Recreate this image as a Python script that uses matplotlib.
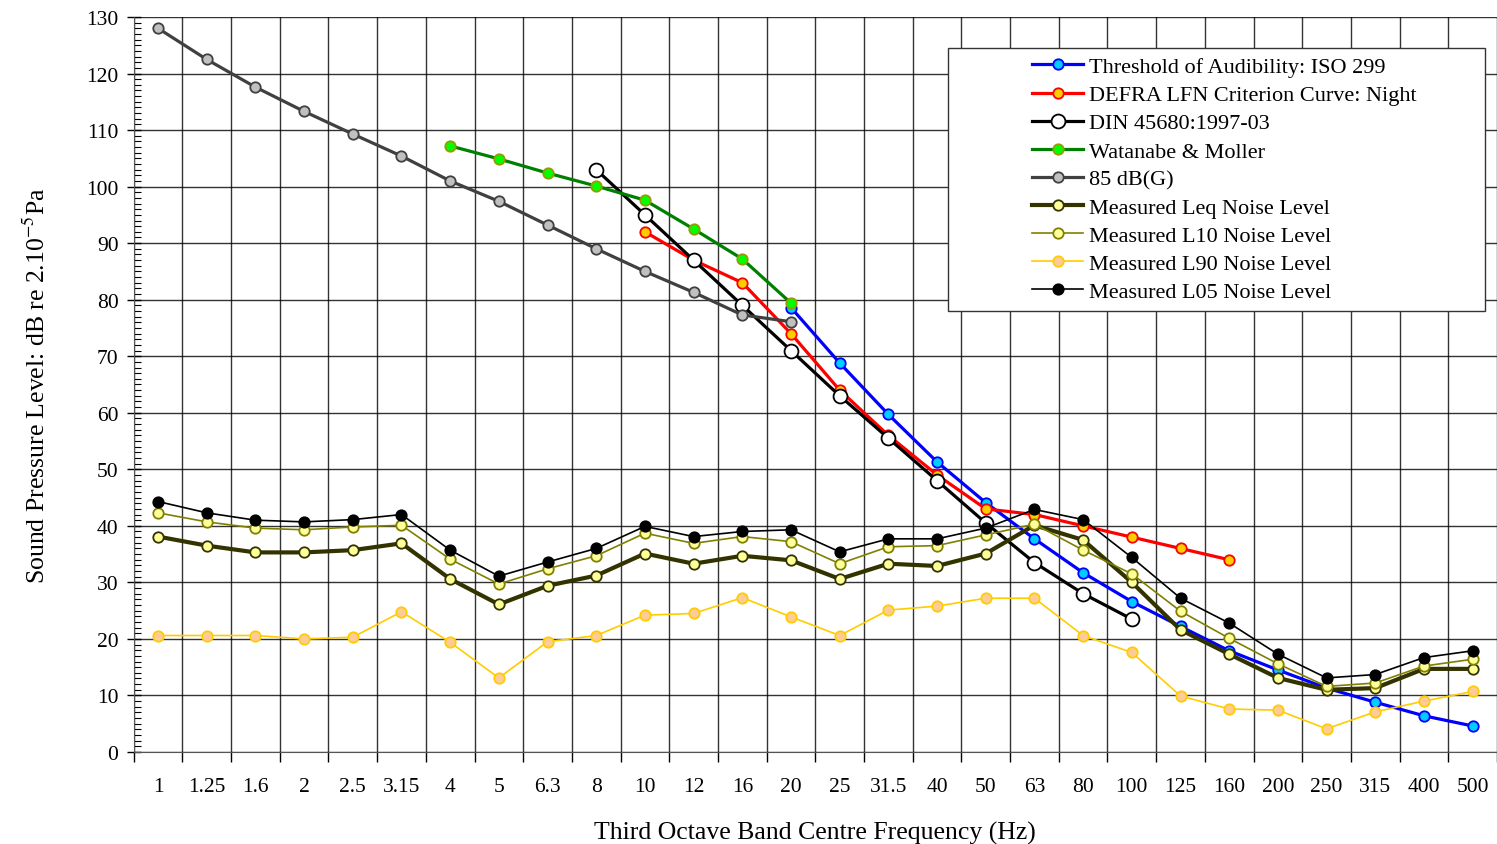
''' Low frequency noise: measured levels against threshold / criterion curves '''
import numpy as np
import matplotlib
matplotlib.use('Agg')
import matplotlib.pyplot as plt
from matplotlib.patches import Rectangle

plt.rcParams['font.family'] = ['Liberation Serif', 'DejaVu Serif']
plt.rcParams['mathtext.fontset'] = 'stix'

# third octave bands
bands = ['1', '1.25', '1.6', '2', '2.5', '3.15', '4', '5', '6.3', '8', '10', '12', '16', '20',
         '25', '31.5', '40', '50', '63', '80', '100', '125', '160', '200', '250', '315', '400', '500']

N = None
threshold_iso = [N] * 13 + [78.6, 68.8, 59.7, 51.3, 44.1, 37.7, 31.7, 26.6, 22.2, 17.9, 14.5, 11.3, 8.8, 6.4, 4.6]
defra_night = [N] * 10 + [92, 87, 83, 74, 64, 56, 49, 43, 42, 40, 38, 36, 34] + [N] * 5
din_45680 = [N] * 9 + [103, 95, 87, 79, 71, 63, 55.5, 48, 40.5, 33.5, 28, 23.5] + [N] * 7
watanabe_moller = [N] * 6 + [107.2, 104.9, 102.4, 100.1, 97.6, 92.5, 87.2, 79.4] + [N] * 14
g85 = [128.0, 122.5, 117.6, 113.3, 109.3, 105.4, 101.0, 97.4, 93.2, 89.0, 85.0, 81.3, 77.3, 76.1] + [N] * 14

leq = [38.1, 36.5, 35.3, 35.3, 35.7, 36.9, 30.6, 26.1, 29.4, 31.2, 35.1, 33.3, 34.7, 33.9,
       30.6, 33.3, 32.9, 35.1, 40.1, 37.5, 30.0, 21.6, 17.3, 13.1, 11.0, 11.3, 14.7, 14.7]
l10 = [42.3, 40.7, 39.6, 39.3, 39.8, 40.1, 34.1, 29.7, 32.4, 34.7, 38.7, 36.9, 38.1, 37.2,
       33.3, 36.3, 36.5, 38.4, 40.3, 35.7, 31.5, 24.9, 20.1, 15.6, 11.6, 12.2, 15.2, 16.4]
l90 = [20.6, 20.6, 20.6, 20.0, 20.3, 24.8, 19.4, 13.1, 19.5, 20.6, 24.2, 24.5, 27.3, 23.9,
       20.6, 25.1, 25.8, 27.2, 27.2, 20.6, 17.6, 9.9, 7.6, 7.4, 4.1, 7.1, 9.0, 10.7]
l05 = [44.3, 42.3, 41.0, 40.7, 41.1, 42.0, 35.7, 31.1, 33.6, 36.0, 39.9, 38.1, 39.0, 39.3,
       35.4, 37.7, 37.7, 39.6, 42.9, 41.1, 34.4, 27.2, 22.8, 17.3, 13.1, 13.7, 16.7, 17.9]


def arr(vals):
    return np.array([np.nan if v is None else v for v in vals], dtype=float)


x = np.arange(len(bands))

fig = plt.figure(figsize=(14.97, 8.45), dpi=100)
ax = fig.add_axes([0.0893, 0.1089, 0.9107, 0.8698])

series = [
    ('Threshold of Audibility: ISO 299', threshold_iso, '#0000ff', '#00ccff', '#0000ff', 2.3, 7.5),
    ('DEFRA LFN Criterion Curve: Night', defra_night, '#ff0000', '#ffcc00', '#ff0000', 2.3, 7.5),
    ('DIN 45680:1997-03', din_45680, '#000000', '#ffffff', '#000000', 2.3, 10),
    ('Watanabe & Moller', watanabe_moller, '#008000', '#00ff00', '#999900', 2.3, 7.5),
    ('85 dB(G)', g85, '#404040', '#c0c0c0', '#404040', 2.3, 7.5),
    ('Measured Leq Noise Level', leq, '#333300', '#ffff99', '#333300', 3.0, 7.5),
    ('Measured L10 Noise Level', l10, '#808000', '#ffff99', '#808000', 1.2, 7.5),
    ('Measured L90 Noise Level', l90, '#ffcc00', '#ffcc99', '#ffcc00', 1.2, 7.5),
    ('Measured L05 Noise Level', l05, '#000000', '#000000', '#000000', 1.2, 7.5),
]
for label, vals, lc, fc, ec, lw, ms in series:
    ax.plot(x, arr(vals), color=lc, lw=lw, marker='o', markersize=ms,
            markerfacecolor=fc, markeredgecolor=ec, markeredgewidth=1.3, label=label, zorder=3)

# axes and grid
ax.set_xlim(-0.5, len(bands) - 0.5)
ax.set_ylim(0, 130)
ax.set_xticks(np.arange(-0.5, len(bands)), [''] * (len(bands) + 1))
ax.set_xticks(x, bands, minor=True)
ax.tick_params(axis='x', which='major', direction='out', length=7, width=1)
ax.tick_params(axis='x', which='minor', length=0, pad=18, labelsize=15.5)
ax.set_yticks(np.arange(0, 131, 10))
ax.set_yticks(np.arange(0, 131, 1), minor=True)
ax.tick_params(axis='y', which='major', direction='inout', length=10, width=1, labelsize=15.5, pad=6)
ax.tick_params(axis='y', which='minor', direction='in', length=5, width=0.8)
ax.grid(True, which='major', color='#000000', lw=1.0, alpha=0.8)
ax.set_axisbelow(True)
for side in ['top', 'right']:
    ax.spines[side].set_visible(False)
ax.spines['left'].set_color('#555555')
ax.spines['bottom'].set_color('#555555')

ax.set_xlabel('Third Octave Band Centre Frequency (Hz)', fontsize=18.5, labelpad=18)
ax.set_ylabel(r'Sound Pressure Level: dB re 2.10$^{-5}$Pa', fontsize=18.5, labelpad=26)

# legend with a wide white box behind it
ax.add_patch(Rectangle((0.597, 0.600), 0.394, 0.358, transform=ax.transAxes,
                       facecolor='white', edgecolor='#333333', lw=1.0, zorder=4))
leg = ax.legend(loc='upper left', bbox_to_anchor=(0.659, 0.946), frameon=False, fontsize=16,
                borderpad=0, borderaxespad=0, handlelength=2.3, handletextpad=0.25, labelspacing=0.34)
leg.set_zorder(5)

fig.savefig('out.png', dpi=100)
